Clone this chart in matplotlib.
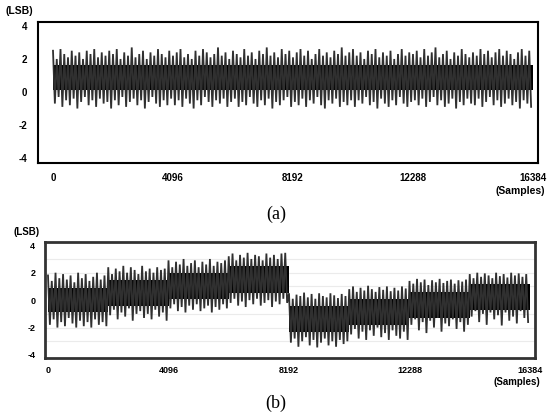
import numpy as np
import matplotlib
matplotlib.use('Agg')
import matplotlib.pyplot as plt

plt.rcParams['font.family'] = ['Liberation Sans', 'DejaVu Sans']

# x positions of the read-off points (samples) and tick labels
n_samples = 16384
x_ticks = [0, 4096, 8192, 12288, 16384]
x_tick_labels = ['0', '4096', '8192', '12288', '16384']
y_ticks = [-4, -2, 0, 2, 4]

# (a) peaks / troughs of the noise trace, read every 128 samples
a_hi = [2.5, 2.0, 2.6, 2.3, 2.1, 2.5, 2.2, 2.4, 2.0, 2.5, 2.3, 2.6, 2.1, 2.4, 2.2, 2.5,
        2.3, 2.6, 2.0, 2.4, 2.2, 2.7, 2.1, 2.3, 2.5, 2.0, 2.4, 2.2, 2.6, 2.3, 2.1, 2.5,
        2.2, 2.4, 2.6, 2.1, 2.3, 2.0, 2.5, 2.2, 2.6, 2.4, 2.1, 2.3, 2.7, 2.2, 2.4, 2.0,
        2.5, 2.3, 2.1, 2.6, 2.2, 2.4, 2.0, 2.5, 2.3, 2.7, 2.2, 2.4, 2.1, 2.6, 2.3, 2.5,
        2.1, 2.4, 2.6, 2.2, 2.5, 2.0, 2.3, 2.6, 2.2, 2.4, 2.1, 2.5, 2.3, 2.7, 2.2, 2.4,
        2.6, 2.2, 2.4, 2.0, 2.5, 2.3, 2.6, 2.1, 2.4, 2.2, 2.5, 2.0, 2.3, 2.6, 2.2, 2.4,
        2.3, 2.5, 2.1, 2.6, 2.2, 2.4, 2.7, 2.1, 2.3, 2.5, 2.0, 2.4, 2.2, 2.6, 2.3, 2.1,
        2.4, 2.2, 2.6, 2.3, 2.5, 2.1, 2.4, 2.6, 2.2, 2.5, 2.3, 2.0, 2.4, 2.6, 2.2, 2.5]
a_lo = [-0.7, -0.3, -0.9, -0.5, -0.8, -0.4, -1.0, -0.6, -0.3, -0.8, -0.5, -0.9, -0.4, -0.7, -0.6, -1.0,
        -0.5, -0.8, -0.3, -0.9, -0.6, -0.4, -0.8, -0.5, -1.0, -0.6, -0.3, -0.7, -0.9, -0.5, -0.8, -0.4,
        -0.8, -0.5, -0.9, -0.4, -0.7, -1.0, -0.5, -0.8, -0.3, -0.6, -0.9, -0.5, -0.7, -0.4, -0.9, -0.6,
        -0.4, -0.9, -0.6, -0.8, -0.3, -0.7, -0.9, -0.5, -0.8, -0.4, -1.0, -0.6, -0.8, -0.5, -0.3, -0.9,
        -0.6, -0.8, -0.4, -0.9, -0.5, -0.7, -0.3, -0.8, -1.0, -0.5, -0.7, -0.4, -0.9, -0.6, -0.8, -0.5,
        -0.9, -0.5, -0.7, -0.3, -0.8, -0.6, -1.0, -0.4, -0.7, -0.9, -0.5, -0.8, -0.3, -0.7, -0.9, -0.6,
        -0.5, -0.8, -0.4, -0.9, -0.6, -0.3, -0.8, -0.5, -0.9, -0.7, -0.4, -1.0, -0.6, -0.8, -0.4, -0.7,
        -0.8, -0.4, -0.9, -0.6, -0.3, -0.8, -0.5, -0.9, -0.7, -0.4, -0.8, -0.6, -1.0, -0.5, -0.7, -0.9]
a_core = (0.15, 1.65)

# (b) eight segments of 2048 samples with different offsets
b_hi = [1.8, 1.4, 2.0, 1.6, 1.9, 1.5, 1.8, 1.3, 2.0, 1.6, 1.9, 1.4, 1.7, 2.0, 1.5, 1.8,
        2.4, 1.9, 2.3, 2.1, 2.5, 2.0, 2.4, 2.2, 1.9, 2.5, 2.1, 2.3, 2.0, 2.4, 2.2, 2.3,
        2.9, 2.4, 2.8, 2.6, 3.0, 2.5, 2.7, 2.9, 2.4, 2.8, 2.6, 3.0, 2.5, 2.8, 2.7, 2.9,
        3.2, 3.4, 2.9, 3.3, 3.1, 3.45, 3.0, 3.3, 3.2, 2.9, 3.4, 3.1, 3.3, 3.0, 3.4, 3.45,
        0.5, 0.1, 0.4, 0.3, 0.55, 0.2, 0.45, 0.1, 0.5, 0.3, 0.2, 0.5, 0.35, 0.15, 0.45, 0.3,
        0.8, 1.0, 0.6, 0.9, 0.7, 1.05, 0.8, 0.6, 0.95, 0.75, 1.0, 0.65, 0.9, 0.7, 1.0, 0.85,
        1.4, 1.2, 1.55, 1.3, 1.5, 1.1, 1.45, 1.3, 1.55, 1.25, 1.4, 1.5, 1.2, 1.45, 1.35, 1.5,
        1.9, 1.6, 2.0, 1.7, 1.95, 1.8, 1.6, 2.0, 1.75, 1.9, 1.65, 2.0, 1.8, 1.95, 1.7, 1.9]
b_lo = [-1.8, -1.4, -2.0, -1.6, -1.9, -1.3, -1.7, -2.0, -1.5, -1.9, -1.6, -2.0, -1.4, -1.8, -1.6, -1.9,
        -1.1, -0.7, -1.4, -0.9, -1.2, -0.6, -1.5, -1.0, -0.8, -1.3, -1.0, -1.4, -0.7, -1.2, -0.9, -1.5,
        -0.6, -0.3, -0.8, -0.5, -0.9, -0.4, -0.7, -0.3, -0.8, -0.6, -0.4, -0.9, -0.5, -0.7, -0.3, -0.6,
        -0.2, 0.1, -0.4, -0.1, -0.5, 0.0, -0.3, 0.1, -0.4, -0.2, 0.0, -0.5, -0.1, -0.3, 0.1, -0.2,
        -3.1, -2.8, -3.4, -3.0, -2.7, -3.3, -2.9, -3.45, -3.1, -2.8, -3.3, -3.0, -3.4, -2.9, -3.2, -3.0,
        -2.5, -2.1, -2.8, -2.3, -2.9, -2.2, -2.6, -2.0, -2.7, -2.4, -2.9, -2.2, -2.6, -2.8, -2.3, -2.9,
        -1.8, -1.4, -2.2, -1.6, -2.4, -1.5, -2.0, -1.3, -2.3, -1.7, -1.9, -1.4, -2.1, -1.6, -2.3, -1.8,
        -1.2, -0.8, -1.6, -1.0, -1.8, -0.9, -1.4, -1.1, -1.85, -0.9, -1.5, -1.2, -1.7, -0.8, -1.3, -1.6]
b_seg_edges = [0, 2048, 4096, 6144, 8192, 10240, 12288, 14336, 16384]
b_core_lo = [-0.9, -0.4, 0.1, 0.55, -2.3, -1.8, -1.3, -0.7]
b_core_hi = [0.9, 1.45, 2.0, 2.5, -0.4, 0.1, 0.6, 1.15]
b_grid = [-3, -2, -1, 1, 2, 3]


def draw_trace(ax, hi, lo, lw):
    # trace swings from each peak to the next trough
    step = n_samples / len(hi)
    x = np.arange(len(hi)) * step
    xs = np.column_stack([x, x + step / 2]).ravel()
    ys = np.column_stack([hi, lo]).ravel()
    ax.plot(xs, ys, color='#303030', lw=lw, solid_joinstyle='miter')


def style_axes(ax, fs, pad_x, pad_y):
    ax.set_xticks(x_ticks)
    ax.set_xticklabels(x_tick_labels, fontsize=fs, fontweight='bold')
    ax.set_yticks(y_ticks)
    ax.set_yticklabels([str(v) for v in y_ticks], fontsize=fs, fontweight='bold')
    ax.tick_params(axis='x', length=0, pad=pad_x)
    ax.tick_params(axis='y', length=0, pad=pad_y)


fig = plt.figure(figsize=(5.5, 4.2), dpi=100)

# panel (a)
ax1 = fig.add_axes([38/550, 1-163/420, 500/550, 141/420])
draw_trace(ax1, a_hi, a_lo, 1.3)
ax1.fill_between([0, n_samples], a_core[0], a_core[1], color='black', lw=0)
ax1.set_xlim(-512, 16555)
ax1.set_ylim(-4.3, 4.24)
style_axes(ax1, 7, 7, 8)
for s in ax1.spines.values():
    s.set_linewidth(1.5)
    s.set_color('black')

# panel (b)
ax2 = fig.add_axes([45/550, 1-358/420, 490/550, 116/420])
for g in b_grid:
    ax2.axhline(g, color='#ebebeb', lw=0.8, zorder=0)
draw_trace(ax2, b_hi, b_lo, 1.3)
ax2.fill_between(b_seg_edges, b_core_lo + [b_core_lo[-1]], b_core_hi + [b_core_hi[-1]],
                 step='post', color='black', lw=0)
ax2.set_xlim(-102, 16554)
ax2.set_ylim(-4.22, 4.24)
style_axes(ax2, 6.5, 6, 7)
for s in ax2.spines.values():
    s.set_linewidth(2)
    s.set_color('#333333')

# axis unit labels and panel captions
fig.text(5/550, 1-11/420, '(LSB)', fontsize=7.5, fontweight='bold', va='center', ha='left')
fig.text(545/550, 1-191/420, '(Samples)', fontsize=7.5, fontweight='bold', va='center', ha='right')
fig.text(13/550, 1-232/420, '(LSB)', fontsize=7, fontweight='bold', va='center', ha='left')
fig.text(540/550, 1-382/420, '(Samples)', fontsize=7, fontweight='bold', va='center', ha='right')
fig.text(276/550, 1-214/420, '(a)', fontsize=13, family='Liberation Serif', va='center', ha='center')
fig.text(276/550, 1-403/420, '(b)', fontsize=13, family='Liberation Serif', va='center', ha='center')

fig.savefig('out.png', dpi=100)
